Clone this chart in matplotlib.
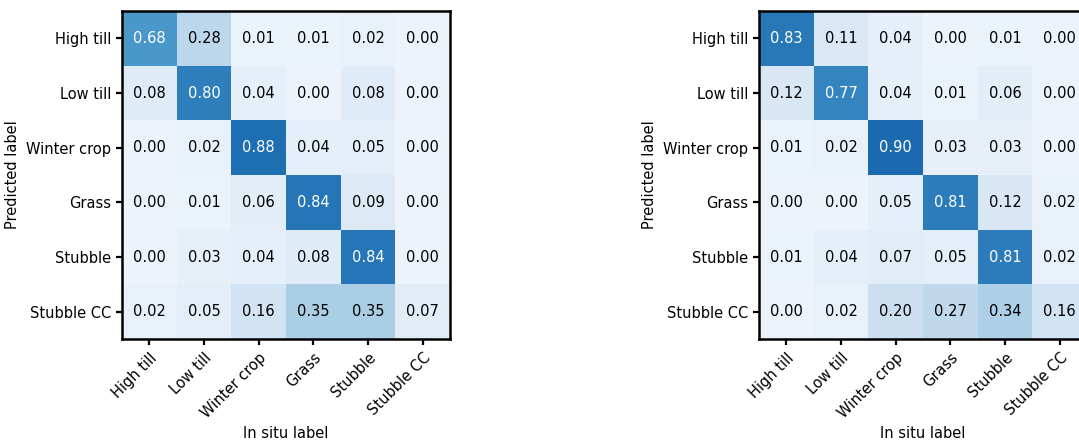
import numpy as np
import matplotlib
matplotlib.use("Agg")
import matplotlib.pyplot as plt
from matplotlib.colors import Normalize


classes = ["High till", "Low till", "Winter crop", "Grass", "Stubble", "Stubble CC"]

cm_left = [
    [0.68, 0.28, 0.01, 0.01, 0.02, 0.00],
    [0.08, 0.80, 0.04, 0.00, 0.08, 0.00],
    [0.00, 0.02, 0.88, 0.04, 0.05, 0.00],
    [0.00, 0.01, 0.06, 0.84, 0.09, 0.00],
    [0.00, 0.03, 0.04, 0.08, 0.84, 0.00],
    [0.02, 0.05, 0.16, 0.35, 0.35, 0.07],
]

cm_right = [
    [0.83, 0.11, 0.04, 0.00, 0.01, 0.00],
    [0.12, 0.77, 0.04, 0.01, 0.06, 0.00],
    [0.01, 0.02, 0.90, 0.03, 0.03, 0.00],
    [0.00, 0.00, 0.05, 0.81, 0.12, 0.02],
    [0.01, 0.04, 0.07, 0.05, 0.81, 0.02],
    [0.00, 0.02, 0.20, 0.27, 0.34, 0.16],
]

FS = 10.5


def plot_cm(ax, cm, labels):
    cm = np.array(cm)
    norm = Normalize(vmin=-0.07, vmax=1.18)
    ax.imshow(cm, cmap="Blues", norm=norm, interpolation="nearest", aspect="auto")
    n = len(labels)
    ax.set_xticks(range(n))
    ax.set_yticks(range(n))
    ax.set_xticklabels(labels, rotation=45, ha="right", rotation_mode="anchor")
    ax.set_yticklabels(labels)
    for i in range(n):
        for j in range(n):
            v = cm[i, j]
            ax.text(j, i, f"{v:.2f}", ha="center", va="center",
                    color="white" if v > 0.5 else "black", fontsize=FS)
    ax.set_xlabel("In situ label", fontsize=FS)
    ax.set_ylabel("Predicted label", fontsize=FS)
    for s in ax.spines.values():
        s.set_linewidth(1.8)
    ax.tick_params(width=1.6, length=4.5, labelsize=FS)


fig = plt.figure(figsize=(10.79, 4.4), dpi=100)
ax1 = fig.add_axes([122 / 1079, 1 - 339 / 440, 328 / 1079, 328 / 440])
ax2 = fig.add_axes([759 / 1079, 1 - 339 / 440, 328 / 1079, 328 / 440])
plot_cm(ax1, cm_left, classes)
plot_cm(ax2, cm_right, classes)

fig.savefig("out.png", dpi=100)
